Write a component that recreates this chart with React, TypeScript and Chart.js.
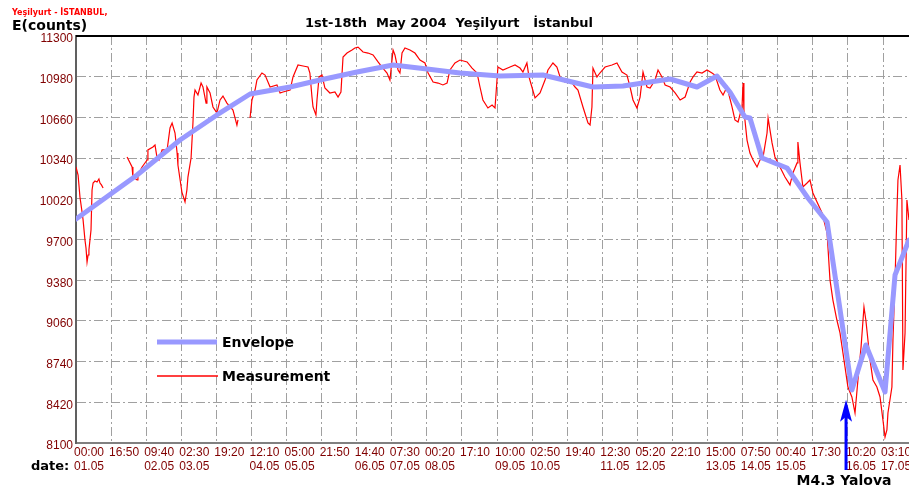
import React, { useEffect, useRef } from "react";
import { Chart, registerables } from "chart.js";

Chart.register(...registerables);

// ---- Data ----
const tickTimeLabels = ["00:00","16:50","09:40","02:30","19:20","12:10","05:00","21:50","14:40","07:30","00:20","17:10","10:00","02:50","19:40","12:30","05:20","22:10","15:00","07:50","00:40","17:30","10:20","03:10"];
const tickDateLabels = ["01.05","","02.05","03.05","","04.05","05.05","","06.05","07.05","08.05","","09.05","10.05","","11.05","12.05","","13.05","14.05","15.05","","16.05","17.05"];
const TICK_STEP_HOURS = 1010 / 60; // 16h50m between time ticks
const yTickValues = [8100, 8420, 8740, 9060, 9380, 9700, 10020, 10340, 10660, 10980, 11300];

// hours since 01.05.2004 00:00
const envelopeHours = [0, 29.3, 49.9, 67.6, 83.5, 102.7, 117.0, 134.8, 152.1, 168.4, 184.2, 203.4, 224.0, 248.0, 262.4, 285.0, 297.9, 307.5, 313.7, 320.9, 323.3, 329.1, 341.1, 351.1, 360.3, 372.2, 378.9, 388.1, 392.9, 399.6];
const envelopeCounts = [9861, 10207, 10482, 10679, 10844, 10899, 10954, 11017, 11072, 11040, 11009, 10985, 10993, 10899, 10907, 10962, 10899, 10985, 10860, 10663, 10655, 10341, 10262, 10026, 9838, 8517, 8871, 8501, 9421, 9696];

const measurementHours = [
  0, 1.0, 1.9, 2.9, 3.4, 4.3, 4.8, 5.3, 5.8, 6.2, 7.2, 7.7, 8.2, 9.1, 10.1, 11.0, 11.5, 12.2, 13.0,
  18.0,
  24.5, 26.9, 27.3, 29.3, 29.7, 31.7, 34.1, 34.5, 36.9, 37.9, 38.9, 39.8, 41.3, 43.7, 45.1, 46.1, 47.5, 48.5, 48.9, 50.8, 52.3, 53.2, 53.7, 55.2, 56.1, 56.6, 57.1, 58.5, 60.0, 60.9, 62.4, 62.8, 64.3, 65.7, 67.6, 69.1, 70.5, 72.4, 75.3, 77.2, 77.7,
  80.0,
  83.5, 84.4, 85.9, 86.8, 89.2, 90.7, 93.1, 96.4, 97.9, 99.3, 102.7, 104.1, 106.5, 108.9, 111.3, 112.2, 113.2, 113.7, 115.1, 115.6, 116.6, 118.0, 119.4, 121.8, 124.2, 125.7, 127.1, 128.1, 130.0, 132.4, 133.8, 135.3, 137.7, 140.1, 142.5, 144.9, 146.8, 149.2, 150.6, 152.1, 153.0, 154.5, 155.4, 156.4, 157.8, 160.2, 162.6, 165.0, 167.4, 168.9, 171.3, 173.7, 176.0, 178.0, 179.4, 181.8, 184.2, 187.6, 190.0, 192.4, 193.8, 195.2, 197.6, 199.6, 201.0, 202.4, 204.8, 208.2, 210.6, 213.0, 214.4, 216.3, 217.3, 218.7, 220.2, 222.6, 225.0, 226.4, 228.8, 230.7, 232.2, 234.6, 237.0, 239.4, 240.8, 243.2, 245.6, 246.6, 247.5, 248.0, 249.9, 251.3, 253.8, 257.1, 259.5, 261.9, 264.3, 265.8, 267.2, 269.1, 270.6, 272.0, 273.9, 275.4, 277.8, 279.2, 281.1, 282.6, 285.0, 287.4, 289.8, 292.2, 294.6, 296.0, 297.9, 300.3, 302.7, 305.1, 306.5, 308.9, 310.4, 312.3, 314.7, 316.1, 317.6, 319.5, 320.0, 320.4, 321.9, 323.3, 324.8, 326.7, 328.1, 329.6, 331.5, 332.0, 333.9, 335.3, 337.7, 340.1, 342.5, 343.9, 345.9, 346.3, 347.3, 348.7, 350.7, 352.1, 353.5, 357.9, 360.3, 361.7, 363.1, 365.0, 366.5, 368.9, 370.3, 372.2, 373.7, 375.1, 376.6, 378.0, 378.9, 380.9, 382.3, 384.2, 385.7, 387.1, 388.1, 389.0, 389.5, 391.4, 391.9, 392.9, 393.8, 394.3, 395.3, 396.2, 396.7, 397.7, 398.6, 399.6
];
const measurementCounts = [
  10270, 10207, 10034, 9916, 9853, 9696, 9633, 9523, 9578, 9617, 9775, 10089, 10144, 10160, 10152, 10176, 10144, 10129, 10105,
  null,
  10349, 10270, 10191, 10168, 10207, 10270, 10325, 10404, 10427, 10443, 10341, 10325, 10404, 10404, 10577, 10616, 10537, 10380, 10286, 10073, 9995, 10089, 10191, 10341, 10616, 10820, 10875, 10836, 10930, 10899, 10773, 10899, 10852, 10742, 10695, 10797, 10828, 10773, 10718, 10600, 10640,
  null,
  10655, 10797, 10875, 10954, 11009, 10993, 10899, 10915, 10852, 10860, 10875, 10978, 11072, 11064, 11056, 11009, 10820, 10742, 10679, 10797, 10978, 10993, 10891, 10852, 10860, 10820, 10860, 11135, 11166, 11190, 11206, 11213, 11174, 11166, 11151, 11096, 11056, 11009, 10954, 11190, 11151, 11033, 11009, 11166, 11206, 11190, 11166, 11111, 11088, 11009, 10938, 10930, 10915, 10930, 11033, 11088, 11111, 11096, 11048, 11009, 10899, 10797, 10734, 10757, 10734, 11056, 11033, 11056, 11072, 11048, 11017, 11088, 10978, 10899, 10813, 10852, 10954, 11033, 11088, 11056, 10978, 10938, 10954, 10899, 10875, 10742, 10616, 10600, 10742, 11048, 10978, 11009, 11056, 11072, 11088, 11017, 10993, 10899, 10797, 10734, 10820, 11017, 10899, 10891, 10954, 11033, 10978, 10915, 10899, 10852, 10797, 10820, 10938, 10978, 11017, 11009, 11033, 11009, 10993, 10875, 10836, 10899, 10742, 10640, 10624, 10742, 10930, 10718, 10482, 10380, 10325, 10270, 10325, 10349, 10537, 10655, 10459, 10349, 10270, 10191, 10129, 10223, 10302, 10467, 10302, 10113, 10144, 10168, 10066, 9908, 9751, 9382, 9224, 9067, 8965, 8698, 8540, 8462, 8336, 8595, 8855, 9169, 9067, 8753, 8595, 8540, 8462, 8281, 8147, 8202, 8336, 8540, 8910, 9382, 9908, 10168, 10286, 10011, 8674, 8965, 10011, 9853
];

const QUAKE_HOURS = 369.4;
const QUAKE_ARROW_TIP = 8440;
const QUAKE_LABEL = "M4.3 Yalova";
const TITLE = "1st-18th  May 2004  Yeşilyurt   İstanbul";
const SUBTITLE = "Yeşilyurt - İSTANBUL,";
const Y_TITLE = "E(counts)";
const X_TITLE = "date:";
const SERIES_NAMES = ["Envelope", "Measurement"];

const ENVELOPE_COLOR = "#9999ff";
const MEAS_COLOR = "#ff0000";
const TICK_COLOR = "#800000";
const BOLD_FONT = '"DejaVu Sans", Verdana, sans-serif';
const TICK_FONT = '"Liberation Sans", Arial, sans-serif';

const overlayPlugin = {
  id: "overlay",
  afterDraw(chart: any) {
    const { ctx, chartArea, scales } = chart;
    ctx.save();
    // top frame line
    ctx.strokeStyle = "#000";
    ctx.lineWidth = 2;
    ctx.beginPath();
    ctx.moveTo(chartArea.left, chartArea.top);
    ctx.lineTo(chartArea.right, chartArea.top);
    ctx.stroke();

    ctx.textAlign = "left";
    ctx.textBaseline = "alphabetic";
    // subtitle
    ctx.fillStyle = "#ff0000";
    ctx.font = `bold 8px ${BOLD_FONT}`;
    ctx.fillText(SUBTITLE, 12, 15);
    // y title
    ctx.fillStyle = "#000";
    ctx.font = `bold 14px ${BOLD_FONT}`;
    ctx.fillText(Y_TITLE, 12, 30);
    // main title
    ctx.font = `bold 13px ${BOLD_FONT}`;
    ctx.textAlign = "center";
    ctx.fillText(TITLE, 449, 27);
    // x title
    ctx.textAlign = "left";
    ctx.font = `bold 13px ${BOLD_FONT}`;
    ctx.fillText(X_TITLE, 31, 470);

    // legend
    const lx0 = 157, lx1 = 217, tx = 222;
    ctx.lineCap = "butt";
    ctx.strokeStyle = ENVELOPE_COLOR;
    ctx.lineWidth = 5;
    ctx.beginPath(); ctx.moveTo(lx0, 342); ctx.lineTo(lx1, 342); ctx.stroke();
    ctx.strokeStyle = MEAS_COLOR;
    ctx.lineWidth = 1.5;
    ctx.beginPath(); ctx.moveTo(lx0, 376); ctx.lineTo(lx1 + 1, 376); ctx.stroke();
    ctx.fillStyle = "#000";
    ctx.font = `bold 14px ${BOLD_FONT}`;
    ctx.fillText(SERIES_NAMES[0], tx, 347);
    ctx.fillText(SERIES_NAMES[1], tx, 381);

    // earthquake arrow
    const ax = scales.x.getPixelForValue(QUAKE_HOURS);
    const ay = scales.y.getPixelForValue(QUAKE_ARROW_TIP);
    ctx.strokeStyle = "#0000ff";
    ctx.fillStyle = "#0000ff";
    ctx.lineWidth = 3;
    ctx.beginPath(); ctx.moveTo(ax, 470); ctx.lineTo(ax, ay + 15); ctx.stroke();
    ctx.beginPath();
    ctx.moveTo(ax, ay);
    ctx.lineTo(ax - 6, ay + 22);
    ctx.lineTo(ax, ay + 17);
    ctx.lineTo(ax + 6, ay + 22);
    ctx.closePath();
    ctx.fill();
    ctx.fillStyle = "#000";
    ctx.font = `bold 14px ${BOLD_FONT}`;
    ctx.textAlign = "center";
    ctx.fillText(QUAKE_LABEL, ax - 2, 485);
    ctx.restore();
  },
};

export default function App() {
  const ref = useRef<HTMLCanvasElement | null>(null);
  useEffect(() => {
    const canvas = ref.current;
    if (!canvas) return;
    const envelope = envelopeHours.map((h, i) => ({ x: h, y: envelopeCounts[i] }));
    const measurement = measurementHours.map((h, i) => ({ x: h, y: measurementCounts[i] }));
    const chart = new Chart(canvas, {
      type: "line",
      data: {
        datasets: [
          {
            label: SERIES_NAMES[0],
            data: envelope,
            borderColor: ENVELOPE_COLOR,
            borderWidth: 5,
            pointRadius: 0,
            tension: 0,
            borderJoinStyle: "round",
            borderCapStyle: "round",
          },
          {
            label: SERIES_NAMES[1],
            data: measurement as any,
            borderColor: MEAS_COLOR,
            borderWidth: 1.2,
            pointRadius: 0,
            tension: 0,
            spanGaps: false,
          },
        ],
      },
      options: {
        animation: false,
        responsive: false,
        devicePixelRatio: 1,
        layout: { padding: { top: 36, left: 0, right: 0, bottom: 0 } },
        plugins: { legend: { display: false }, tooltip: { enabled: false }, title: { display: false } },
        scales: {
          x: {
            type: "linear",
            min: 0,
            max: 399.6,
            afterBuildTicks: (s: any) => {
              s.ticks = tickTimeLabels.map((_, i) => ({ value: i * TICK_STEP_HOURS }));
            },
            afterFit: (s: any) => {
              s.height = 45;
              s.paddingLeft = 0;
              s.paddingRight = 0;
            },
            ticks: {
              autoSkip: false,
              maxRotation: 0,
              minRotation: 0,
              align: "start",
              labelOffset: -2,
              padding: 2,
              color: TICK_COLOR,
              font: { family: TICK_FONT, size: 12, lineHeight: 1.2 },
              callback: (_v: any, i: number) => [tickTimeLabels[i], tickDateLabels[i]],
            },
            grid: { color: "#a0a0a0", lineWidth: 1, drawTicks: false },
            border: { display: true, color: "#808080", width: 2, dash: [9, 3, 2, 3] },
          },
          y: {
            min: 8100,
            max: 11300,
            afterBuildTicks: (s: any) => {
              s.ticks = yTickValues.map((v) => ({ value: v }));
            },
            afterFit: (s: any) => {
              s.width = 76;
              s.paddingTop = 0;
              s.paddingBottom = 0;
            },
            ticks: {
              color: TICK_COLOR,
              padding: 3,
              labelOffset: 3,
              font: { family: TICK_FONT, size: 12 },
              callback: (v: any) => String(v),
            },
            grid: { color: "#a0a0a0", lineWidth: 1, drawTicks: false },
            border: { display: true, color: "#606060", width: 2, dash: [9, 3, 2, 3] },
          },
        },
      },
      plugins: [overlayPlugin],
    });
    return () => chart.destroy();
  }, []);
  return (
    <div style={{ position: "fixed", left: 0, top: 0, width: 909, height: 488, background: "#fff", overflow: "hidden" }}>
      <canvas ref={ref} width={909} height={488} style={{ display: "block", width: 909, height: 488 }} />
    </div>
  );
}
